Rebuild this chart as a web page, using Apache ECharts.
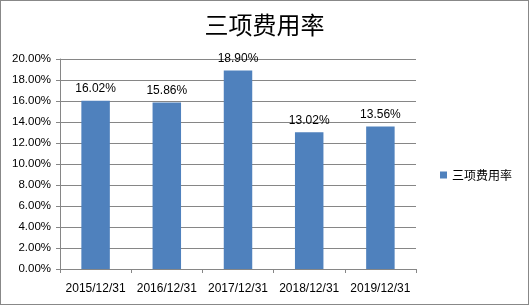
<!DOCTYPE html>
<html><head><meta charset="utf-8">
<script src="https://cdn.jsdelivr.net/npm/echarts@6/dist/echarts.min.js"></script>
<style>html,body{margin:0;padding:0;background:#fff}#c{width:529px;height:305px;box-sizing:border-box;border:1px solid #888}</style>
</head><body><div id="c"></div>
<script>
const categories = ['2015/12/31','2016/12/31','2017/12/31','2018/12/31','2019/12/31'];
const values = [16.02, 15.86, 18.90, 13.02, 13.56];
const seriesName = '三项费用率';
const chart = echarts.init(document.getElementById('c'));
chart.setOption({
  animation:false,
  title:{text:'三项费用率',left:'center',top:7,textStyle:{fontFamily:'Noto Sans CJK SC',fontSize:24,fontWeight:'normal',color:'#000'}},
  legend:{data:[seriesName],orient:'vertical',left:434,top:163,itemWidth:7,itemHeight:7,icon:'rect',itemGap:4,
    textStyle:{fontFamily:'Noto Sans CJK SC',fontSize:12,color:'#000'}},
  grid:{left:59,right:112,top:58,bottom:35,containLabel:false},
  xAxis:{type:'category',data:categories,
    axisLine:{lineStyle:{color:'#868686'}},
    axisTick:{show:true,inside:false,length:4,lineStyle:{color:'#868686'}},
    axisLabel:{interval:0,color:'#000',fontFamily:'Liberation Sans',fontSize:12,margin:14}},
  yAxis:{type:'value',min:0,max:20,interval:2,
    axisLine:{show:true,lineStyle:{color:'#868686'}},
    axisTick:{show:true,length:4,lineStyle:{color:'#868686'}},
    splitLine:{lineStyle:{color:'#868686'}},
    axisLabel:{color:'#000',fontFamily:'Liberation Sans',fontSize:11.5,margin:9,formatter:v=>v.toFixed(2)+'%'}},
  series:[{name:seriesName,type:'bar',data:values,barWidth:'40%',itemStyle:{color:'#4F81BD'},
    label:{show:true,position:'top',distance:6,color:'#000',fontFamily:'Liberation Sans',fontSize:12,formatter:p=>p.value.toFixed(2)+'%'}}]
});
</script></body></html>
